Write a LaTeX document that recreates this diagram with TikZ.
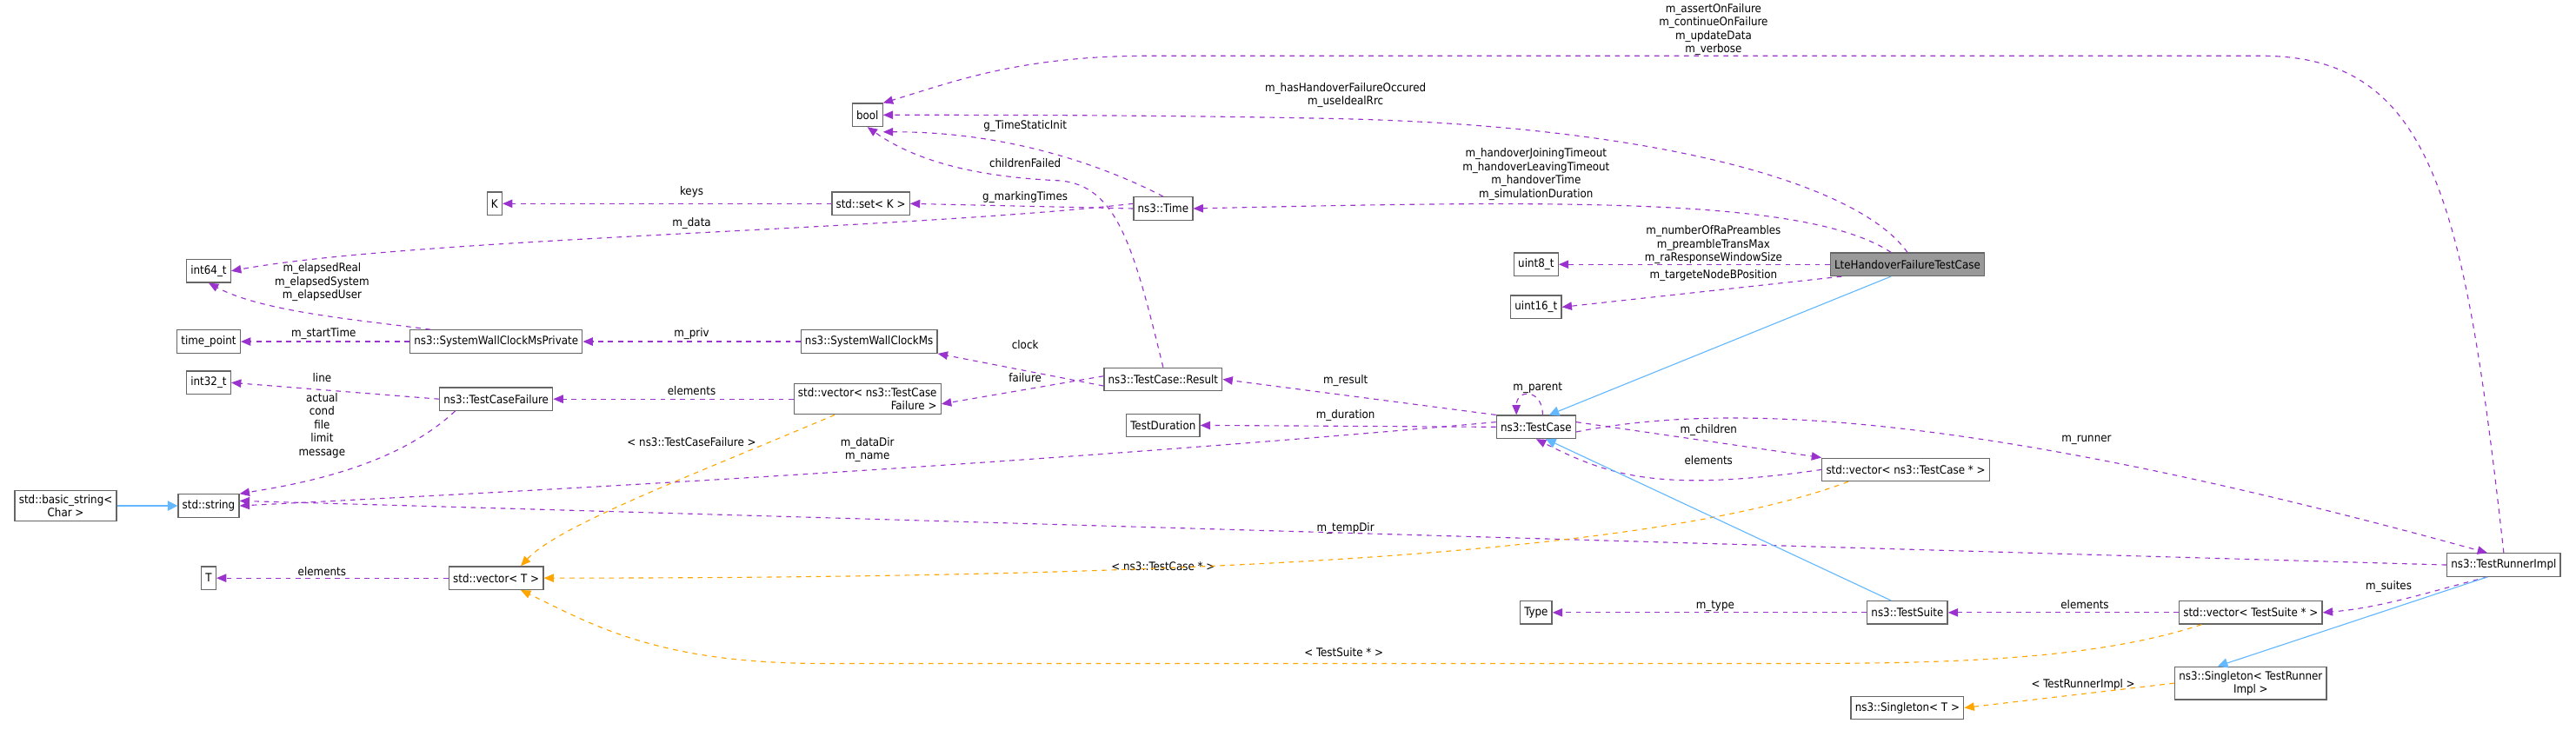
\documentclass[tikz,border=0pt]{standalone}
\usepackage{fontspec}
\setmainfont{DejaVu Sans Condensed}
\usetikzlibrary{arrows.meta}
\definecolor{usecol}{HTML}{9A32CD}
\definecolor{tplcol}{HTML}{FFA500}
\definecolor{inhcol}{HTML}{63B8FF}
\tikzstyle{every picture} = [x=1pt, y=-1pt, font=\fontsize{7}{8.2}\selectfont]
\tikzstyle{cls} = [draw=black!60, line width=0.7pt, fill=white, inner sep=2.5pt, minimum height=14pt, align=center]
\tikzstyle{use} = [draw=usecol, dashed, line width=0.6pt, -{Triangle[length=6pt,width=5pt]}]
\tikzstyle{tmpl} = [draw=tplcol, dashed, line width=0.6pt, -{Triangle[length=6pt,width=5pt]}]
\tikzstyle{inh} = [draw=inhcol, line width=0.6pt, {Triangle[length=6pt,width=6pt]}-]
\tikzstyle{lbl} = [inner sep=0pt, align=center]

\begin{document}
\begin{tikzpicture}
    \useasboundingbox (0,0) rectangle (1568,444);
    % classes
    \node (bool) at (528,70) [cls] {bool};
    \node (K) at (301,124) [cls] {K};
    \node (set) at (530,124) [cls] {std::set< K >};
    \node (time) at (708,127) [cls] {ns3::Time};
    \node (int64) at (127,165) [cls] {int64\_t};
    \node (uint8) at (935,161) [cls] {uint8\_t};
    \node (lte) at (1161,161) [cls, fill=black!40] {LteHandoverFailureTestCase};
    \node (uint16) at (935,187) [cls] {uint16\_t};
    \node (timept) at (127,208) [cls] {time\_point};
    \node (swpriv) at (302,208) [cls] {ns3::SystemWallClockMsPrivate};
    \node (swms) at (529,208) [cls] {ns3::SystemWallClockMs};
    \node (int32) at (127,233) [cls] {int32\_t};
    \node (tcf) at (302,243) [cls] {ns3::TestCaseFailure};
    \node (vectcf) at (528,243) [cls] {std::vector< ns3::TestCase\\\hfill Failure >};
    \node (result) at (708,231) [cls] {ns3::TestCase::Result};
    \node (tdur) at (708,259) [cls] {TestDuration};
    \node (testcase) at (935,260) [cls] {ns3::TestCase};
    \node (basicstr) at (40,308) [cls] {std::basic\_string<\\Char >};
    \node (string) at (127,308) [cls] {std::string};
    \node (vectc) at (1160,286) [cls] {std::vector< ns3::TestCase * >};
    \node (T) at (127,352) [cls] {T};
    \node (vecT) at (302,352) [cls] {std::vector< T >};
    \node (tri) at (1524,344) [cls] {ns3::TestRunnerImpl};
    \node (type) at (935,373) [cls] {Type};
    \node (suite) at (1161,373) [cls] {ns3::TestSuite};
    \node (vects) at (1370,373) [cls] {std::vector< TestSuite * >};
    \node (singtri) at (1370,416) [cls] {ns3::Singleton< TestRunner\\Impl >};
    \node (singT) at (1161,431) [cls] {ns3::Singleton< T >};

    % labels
    \node (l assert) at (1043,18) [lbl] {m\_assertOnFailure\\m\_continueOnFailure\\m\_updateData\\m\_verbose};
    \node (l hofail) at (819,58) [lbl] {m\_hasHandoverFailureOccured\\m\_useIdealRrc};
    \node (l hotime) at (935,106) [lbl] {m\_handoverJoiningTimeout\\m\_handoverLeavingTimeout\\m\_handoverTime\\m\_simulationDuration};
    \node (l ra) at (1043,149) [lbl] {m\_numberOfRaPreambles\\m\_preambleTransMax\\m\_raResponseWindowSize};
    \node (l target) at (1043,168) [lbl] {m\_targeteNodeBPosition};
    \node (l static) at (624,77) [lbl] {g\_TimeStaticInit};
    \node (l children) at (624,99) [lbl] {childrenFailed};
    \node (l marking) at (624,120) [lbl] {g\_markingTimes};
    \node (l keys) at (421,117) [lbl] {keys};
    \node (l data) at (421,136) [lbl] {m\_data};
    \node (l elapsed) at (196,172) [lbl] {m\_elapsedReal\\m\_elapsedSystem\\m\_elapsedUser};
    \node (l start) at (197,203) [lbl] {m\_startTime};
    \node (l priv) at (421,203) [lbl] {m\_priv};
    \node (l clock) at (624,210) [lbl] {clock};
    \node (l line) at (196,230) [lbl] {line};
    \node (l elemtcf) at (421,238) [lbl] {elements};
    \node (l failure) at (624,230) [lbl] {failure};
    \node (l result) at (819,232) [lbl] {m\_result};
    \node (l parent) at (936,236) [lbl] {m\_parent};
    \node (l duration) at (819,253) [lbl] {m\_duration};
    \node (l actual) at (196,259) [lbl] {actual\\cond\\file\\limit\\message};
    \node (l tcfvec) at (421,269) [lbl] {< ns3::TestCaseFailure >};
    \node (l datadir) at (528,274) [lbl] {m\_dataDir\\m\_name};
    \node (l child) at (1040,262) [lbl] {m\_children};
    \node (l elemtc) at (1040,280) [lbl] {elements};
    \node (l runner) at (1270,268) [lbl] {m\_runner};
    \node (l temp) at (819,322) [lbl] {m\_tempDir};
    \node (l tcvec) at (708,345) [lbl] {< ns3::TestCase * >};
    \node (l elemT) at (196,348) [lbl] {elements};
    \node (l suites) at (1454,357) [lbl] {m\_suites};
    \node (l type) at (1044,369) [lbl] {m\_type};
    \node (l elemts) at (1269,368) [lbl] {elements};
    \node (l tsvec) at (818,397) [lbl] {< TestSuite * >};
    \node (l trivec) at (1268,417) [lbl] {< TestRunnerImpl >};

    % usage
    \draw[use] (tri.north) .. controls (1500,120) and (1480,34) .. (1376,34) -- (700,34) .. controls (620,34) and (580,50) .. (bool.north east);
    \draw[use] (lte.north) .. controls (1130,110) and (1000,75) .. (800,72) .. controls (700,70) and (600,70) .. (bool.east);
    \draw[use] ([xshift=-10pt]lte.north) .. controls (1100,120) and (950,122) .. (time.east);
    \draw[use] (lte.west) -- (uint8.east);
    \draw[use] ([xshift=-40pt]lte.south) -- (uint16.east);
    \draw[use] (time.north) .. controls (680,105) and (620,80) .. ([yshift=-3pt]bool.south east);
    \draw[use] (result.north) .. controls (690,150) and (680,113) .. (645,110) .. controls (600,108) and (560,100) .. (bool.south);
    \draw[use] (time.west) -- (set.east);
    \draw[use] (set.west) -- (K.east);
    \draw[use] ([yshift=3pt]time.west) .. controls (550,140) and (250,145) .. (int64.east);
    \draw[use] ([xshift=-40pt]swpriv.north) .. controls (220,195) and (160,190) .. (int64.south);
    \draw[use] (swpriv.west) -- (timept.east);
    \draw[use] (swms.west) -- (swpriv.east);
    \draw[use] ([yshift=-4pt]result.west) -- (swms.south east);
    \draw[use] ([yshift=2pt]result.west) -- ([yshift=-3pt]vectcf.east);
    \draw[use] (tcf.west) -- (int32.east);
    \draw[use] (vectcf.west) -- (tcf.east);
    \draw[use] ([xshift=-25pt]tcf.south) .. controls (240,285) and (180,295) .. (string.north east);
    \draw[use] (testcase.north west) -- (result.east);
    \draw[use] ([xshift=4pt]testcase.north) .. controls +(0,-16) and +(0,-16) .. ([xshift=-12pt]testcase.north);
    \draw[use] (testcase.west) -- (tdur.east);
    \draw[use] ([yshift=3pt]testcase.west) .. controls (600,285) and (300,300) .. (string.east);
    \draw[use] ([yshift=3pt]testcase.east) -- (vectc.north west);
    \draw[use] (vectc.west) .. controls (1010,300) and (980,290) .. (testcase.south);
    \draw[use] ([yshift=-3pt]testcase.east) .. controls (1050,245) and (1200,250) .. ([xshift=-10pt]tri.north);
    \draw[use] (tri.west) .. controls (1000,330) and (500,315) .. ([yshift=3pt]string.east);
    \draw[use] ([xshift=-10pt]tri.south) .. controls (1480,360) and (1450,370) .. (vects.east);
    \draw[use] (vects.west) -- (suite.east);
    \draw[use] (suite.west) -- (type.east);
    \draw[use] (vecT.west) -- (T.east);

    % template instances
    \draw[tmpl] ([xshift=-20pt]vectcf.south) .. controls (420,290) and (340,320) .. ([xshift=15pt]vecT.north);
    \draw[tmpl] ([xshift=-35pt]vectc.south) .. controls (1000,340) and (700,352) .. (vecT.east);
    \draw[tmpl] ([xshift=-30pt]vects.south) .. controls (1280,400) and (1200,404) .. (1100,404) -- (500,404) .. controls (400,404) and (360,380) .. ([xshift=15pt]vecT.south);
    \draw[tmpl] (singtri.west) -- (singT.east);

    % inheritance
    \draw[inh] (string.west) -- (basicstr.east);
    \draw[inh] ([xshift=8pt]testcase.north) -- ([xshift=-10pt]lte.south);
    \draw[inh] ([xshift=6pt]testcase.south) -- ([xshift=-10pt]suite.north);
    \draw[inh] ([xshift=-20pt]singtri.north) -- ([xshift=-10pt]tri.south);
\end{tikzpicture}
\end{document}
